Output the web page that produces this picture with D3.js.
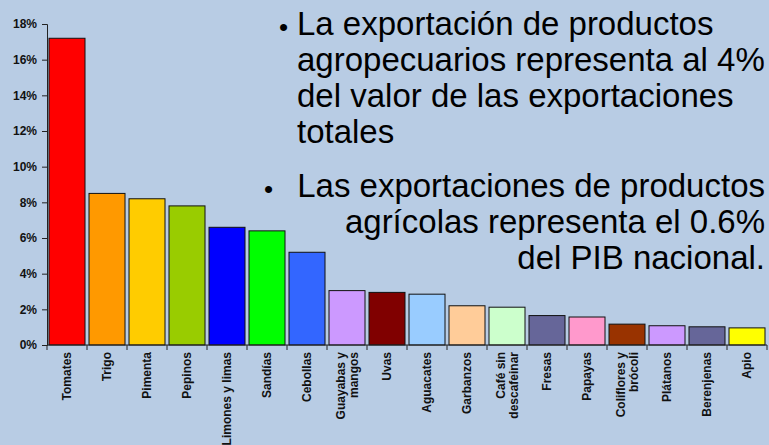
<!DOCTYPE html>
<html>
<head>
<meta charset="utf-8">
<script src="https://cdn.jsdelivr.net/npm/d3@7"></script>
<style>
  body { margin: 0; background: #B8CCE4; }
  svg { display: block; font-family: Arial, "Liberation Sans", sans-serif; }
</style>
</head>
<body>
<div id="chart"></div>
<script>
(function() {
    let w = 769,
        h = 445;

    // data
    let categories = ["Tomates", "Trigo", "Pimenta", "Pepinos", "Limones y limas", "Sandías",
        "Cebollas", "Guayabas y|mangos", "Uvas", "Aguacates", "Garbanzos", "Café sin|descafeinar",
        "Fresas", "Papayas", "Coliflores y|brócoli", "Plátanos", "Berenjenas", "Apio"];
    let values = [17.2, 8.5, 8.2, 7.8, 6.6, 6.4, 5.2, 3.05, 2.95, 2.85, 2.2, 2.12,
        1.65, 1.57, 1.17, 1.08, 1.02, 0.96];
    let colors = ["#FF0000", "#FF9900", "#FFCC00", "#99CC00", "#0000FF", "#00FF00",
        "#3366FF", "#CC99FF", "#800000", "#99CCFF", "#FFCC99", "#CCFFCC",
        "#666699", "#FF99CC", "#993300", "#CC99FF", "#666699", "#FFFF00"];
    let yTicks = [0, 2, 4, 6, 8, 10, 12, 14, 16, 18];

    let bullet1 = ["La exportación de productos", "agropecuarios representa al 4%",
        "del valor de las exportaciones", "totales"];
    let bullet2 = ["Las exportaciones de productos", "agrícolas representa el 0.6%",
        "del PIB nacional."];

    let svg = d3.select("#chart")
        .append("svg")
        .attr("width", w)
        .attr("height", h);

    let x = d3.scaleBand()
        .domain(categories)
        .range([47, 767])
        .paddingInner(0.1)
        .paddingOuter(0.05);

    let y = d3.scaleLinear()
        .domain([0, 18])
        .range([345, 24]);

    // bars
    svg.append("g")
        .selectAll("rect")
        .data(values)
        .enter().append("rect")
        .attr("x", (d, i) => x(categories[i]))
        .attr("y", d => y(d))
        .attr("width", x.bandwidth())
        .attr("height", d => y(0) - y(d))
        .attr("fill", (d, i) => colors[i])
        .attr("stroke", "#111")
        .attr("stroke-width", 1);

    // y axis
    let yAxis = svg.append("g")
        .attr("transform", "translate(47,0)")
        .call(d3.axisLeft(y).tickValues(yTicks).tickSize(5).tickPadding(5)
            .tickFormat(d => d + "%"));
    yAxis.selectAll("text")
        .attr("font-size", 12)
        .attr("font-weight", "bold")
        .attr("fill", "#111");
    yAxis.selectAll("line, path").attr("stroke", "#222");

    // x axis: baseline and ticks between categories
    let xg = svg.append("g");
    xg.append("line")
        .attr("x1", 47).attr("x2", 767)
        .attr("y1", y(0)).attr("y2", y(0))
        .attr("stroke", "#222");
    xg.selectAll("line.tick")
        .data(d3.range(categories.length + 1))
        .enter().append("line")
        .attr("class", "tick")
        .attr("x1", i => 47 + i * x.step())
        .attr("x2", i => 47 + i * x.step())
        .attr("y1", y(0))
        .attr("y2", y(0) + 5)
        .attr("stroke", "#222");

    // category labels, rotated
    xg.selectAll("g.lab")
        .data(categories)
        .enter().append("g")
        .attr("class", "lab")
        .attr("transform", d => "translate(" + (x(d) + x.bandwidth() / 2) + ",352) rotate(-90)")
        .each(function(d) {
            let lines = d.split("|");
            let t = d3.select(this).append("text")
                .attr("text-anchor", "end")
                .attr("font-size", 12)
                .attr("font-weight", "bold")
                .attr("fill", "#111");
            lines.forEach((l, k) => {
                t.append("tspan")
                    .attr("x", 0)
                    .attr("y", (k - (lines.length - 1) / 2) * 13 + 4)
                    .text(l);
            });
        });

    // bullet text
    let tg = svg.append("g").attr("font-size", 33).attr("fill", "#000");
    tg.append("text").attr("x", 279).attr("y", 36).attr("font-size", 26).text("•");
    tg.selectAll("text.b1")
        .data(bullet1)
        .enter().append("text")
        .attr("class", "b1")
        .attr("x", 297)
        .attr("y", (d, i) => 35 + i * 36)
        .text(d => d);

    tg.append("text").attr("x", 264).attr("y", 198).attr("font-size", 26).text("•");
    tg.selectAll("text.b2")
        .data(bullet2)
        .enter().append("text")
        .attr("class", "b2")
        .attr("x", 765)
        .attr("text-anchor", "end")
        .attr("y", (d, i) => 197 + i * 36)
        .text(d => d);
})();
</script>
</body>
</html>
